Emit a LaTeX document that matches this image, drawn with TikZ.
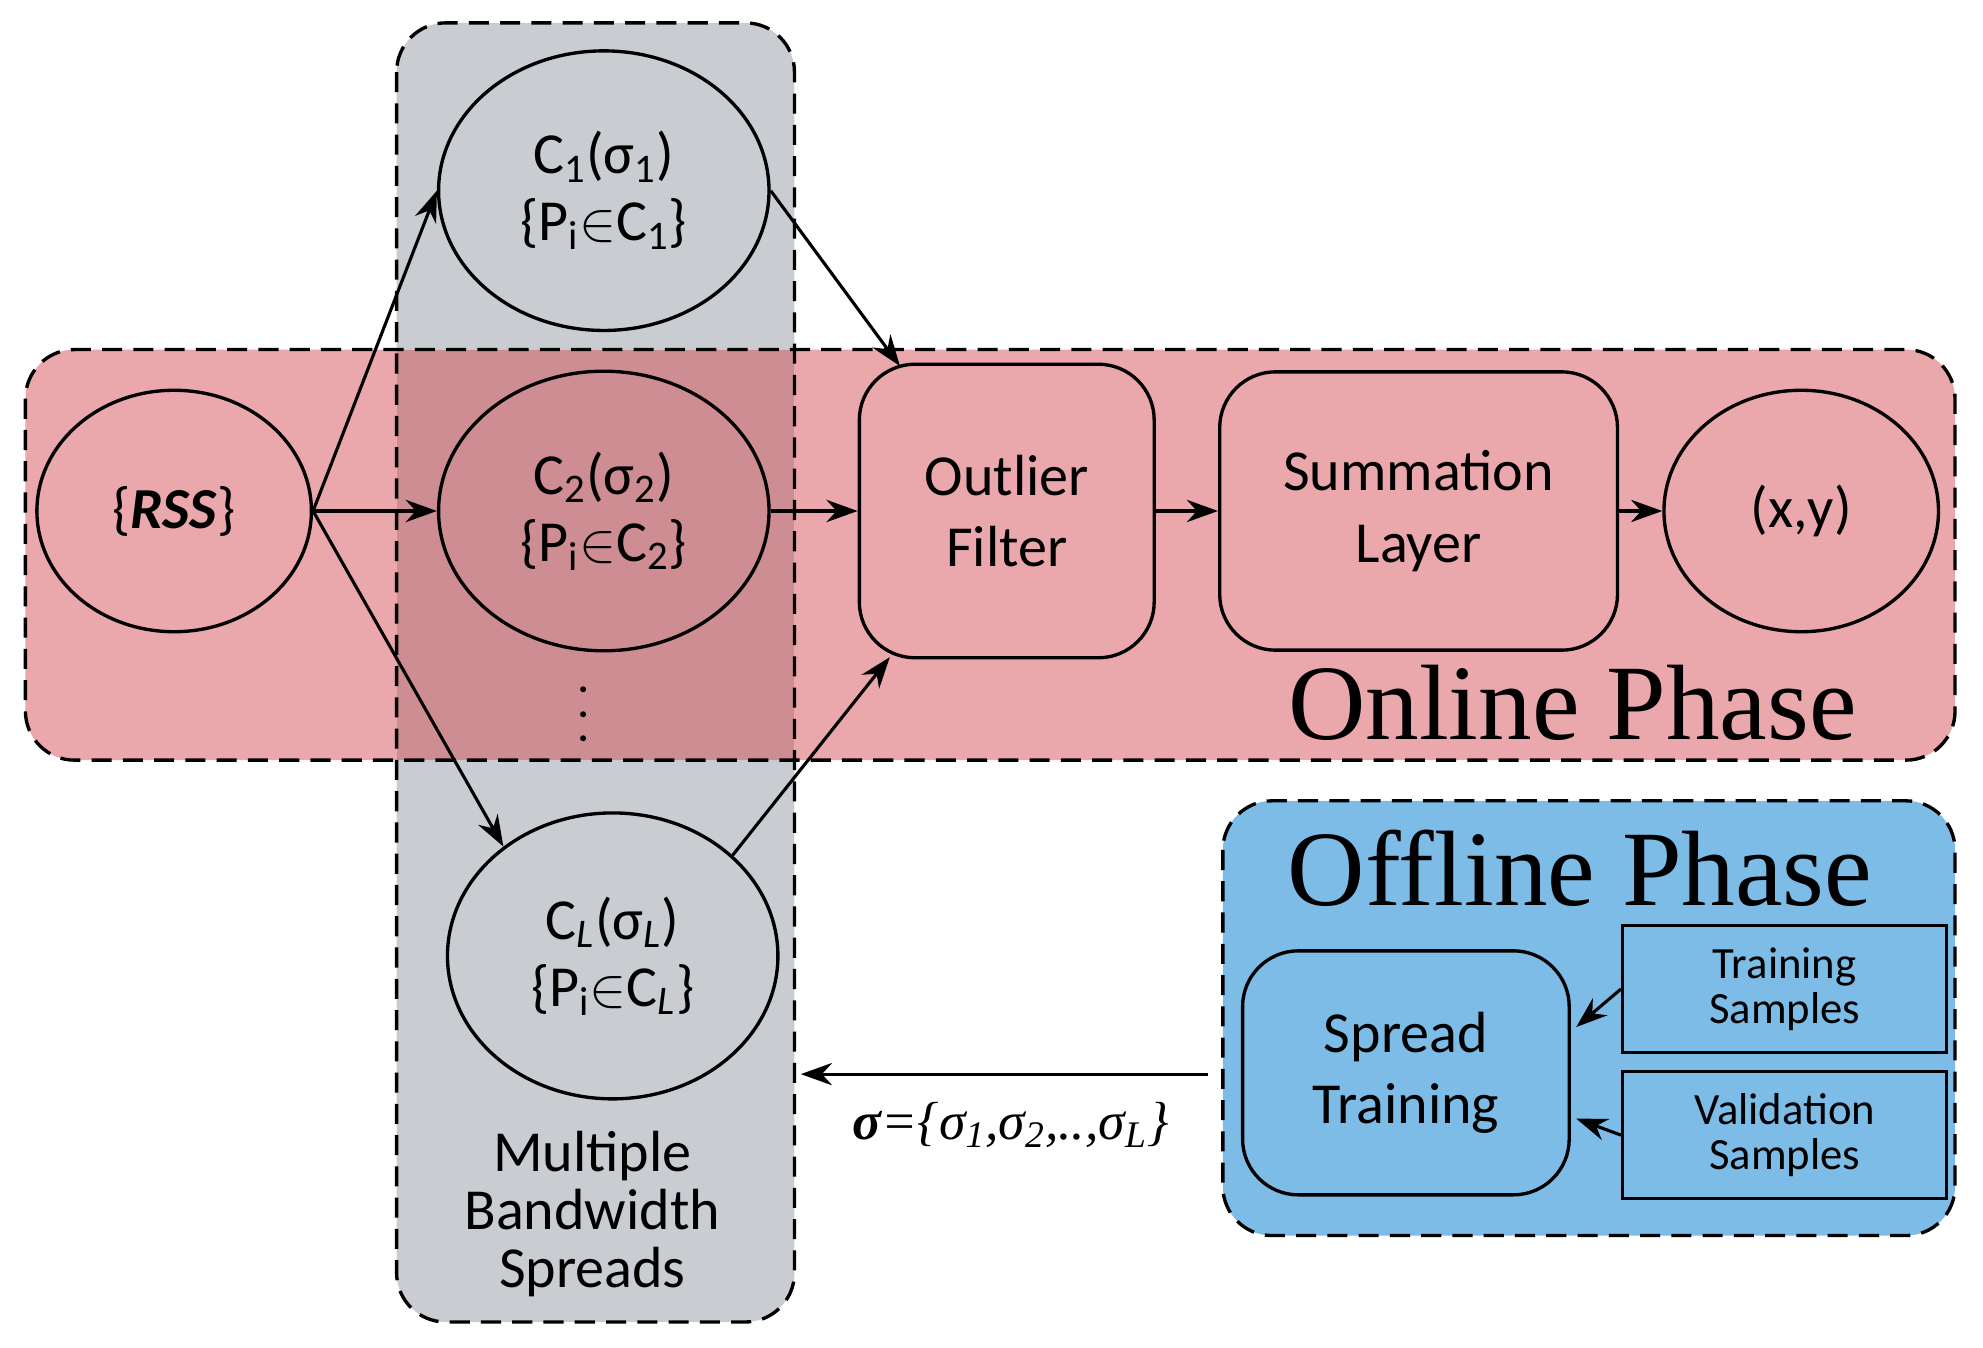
\documentclass[tikz,border=0pt]{standalone}
\usepackage{fontspec}
\setmainfont{Carlito}
\newfontfamily\titlefont{Liberation Serif}
\usetikzlibrary{arrows.meta,shapes.geometric}
\definecolor{pinkf}{RGB}{234,168,172}
\definecolor{grayf}{RGB}{201,205,210}
\definecolor{overf}{RGB}{206,141,146}
\definecolor{bluef}{RGB}{125,188,230}
\begin{document}
\begin{tikzpicture}[x=0.02cm,y=-0.02cm,
  region/.style={draw=black,dash pattern=on 9pt off 5pt,line width=1.5pt,rounded corners=22},
  ell/.style={ellipse,draw=black,line width=1.5pt,font=\fontsize{26}{30}\selectfont,align=center,inner sep=0pt},
  box/.style={draw=black,line width=1.5pt,rounded corners=25,font=\fontsize{26}{32}\selectfont,align=center,inner sep=0pt},
  sbox/.style={draw=black,line width=1.5pt,font=\fontsize{20}{20}\selectfont,align=center,inner sep=0pt,fill=bluef},
  arr/.style={-{Stealth[length=14pt,width=10pt]},line width=1.4pt}]
\useasboundingbox (0,0) rectangle (1560,1060);
% regions
\fill[grayf,rounded corners=22] (312,18) rectangle (625,1040);
\fill[pinkf,rounded corners=22] (20,275) rectangle (1538,598);
\fill[overf] (312,275) rectangle (625,598);
\fill[bluef,rounded corners=22] (962,630) rectangle (1538,972);
\draw[region] (312,18) rectangle (625,1040);
\draw[region] (20,275) rectangle (1538,598);
\draw[region] (962,630) rectangle (1538,972);
% nodes
\node[ell,fill=pinkf,minimum width=4.32cm,minimum height=3.8cm] (rss) at (137,402) {\{\textit{\textbf{RSS}}\}};
\node[ell,fill=grayf,minimum width=5.2cm,minimum height=4.4cm] (c1) at (475,150) {C\textsubscript{1}(σ\textsubscript{1})\\\{P\textsubscript{i}$\in$C\textsubscript{1}\}};
\node[ell,fill=overf,minimum width=5.2cm,minimum height=4.4cm] (c2) at (475,402) {C\textsubscript{2}(σ\textsubscript{2})\\\{P\textsubscript{i}$\in$C\textsubscript{2}\}};
\node[ell,fill=grayf,minimum width=5.2cm,minimum height=4.5cm] (cl) at (482,752) {C\textsubscript{\textit{L}}(σ\textsubscript{\textit{L}})\\\{P\textsubscript{i}$\in$C\textsubscript{\textit{L}}\}};
\node[box,fill=pinkf,minimum width=4.64cm,minimum height=4.62cm] (of) at (792,402) {Outlier\\Filter};
\node[box,fill=pinkf,minimum width=6.26cm,minimum height=4.38cm] (sl) at (1116,402) {Summation\\Layer};
\node[ell,fill=pinkf,minimum width=4.32cm,minimum height=3.8cm] (xy) at (1417,402) {(x,y)};
\node[box,fill=bluef,minimum width=5.14cm,minimum height=3.84cm] (st) at (1106,844) {Spread\\Training};
\node[sbox,minimum width=5.1cm,minimum height=2cm] (ts) at (1404,778) {Training\\Samples};
\node[sbox,minimum width=5.1cm,minimum height=2cm] (vs) at (1404,893) {Validation\\Samples};
% texts
\node[font=\titlefont\fontsize{48}{50}\selectfont] (on) at (1237,553) {Online Phase};
\node[font=\titlefont\fontsize{48}{50}\selectfont] (off) at (1243,683) {Offline Phase};
\node[font=\fontsize{26}{26}\selectfont,align=center] (mbs) at (466,955) {Multiple\\Bandwidth\\Spreads};
\node[rotate=90,font=\fontsize{26}{26}\selectfont] (dots) at (460,562) {$\cdots$};
\node[font=\titlefont\itshape\fontsize{24}{26}\selectfont] (sig) at (795,885) {{\bfseries σ}=\{σ\textsubscript{1},σ\textsubscript{2},..,σ\textsubscript{\textit{L}}\}};
\coordinate (sigend) at (630,845);
\coordinate (sigstart) at (950,845);
\coordinate (tsin) at (1240,808);
\coordinate (vsin) at (1240,880);
\coordinate (ofin1) at (708,288);
\coordinate (ofin3) at (700,517);
% arrows
\draw[arr] (rss.east) -- (c1.west);
\draw[arr] (rss.east) -- (c2.west);
\draw[arr] (rss.east) -- (cl.135);
\draw[arr] (c1.east) -- (ofin1);
\draw[arr] (c2.east) -- (of.west);
\draw[arr] (cl.40) -- (ofin3);
\draw[arr] (of.east) -- (sl.west);
\draw[arr] (sl.east) -- (xy.west);
\draw[arr] (sigstart) -- (sigend);
\draw[arr] (ts.west) -- (tsin);
\draw[arr] (vs.west) -- (vsin);
\end{tikzpicture}
\end{document}
